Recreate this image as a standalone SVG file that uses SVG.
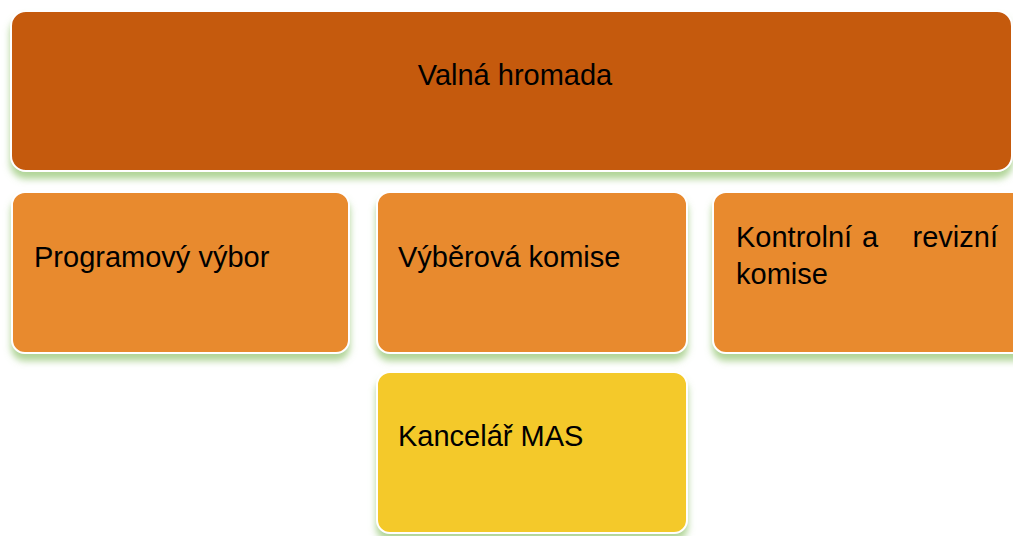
<svg xmlns="http://www.w3.org/2000/svg" width="1013" height="536" viewBox="0 0 1013 536">
<style>
.box{stroke:#ffffff;stroke-width:2;filter:url(#sh)}
.top{fill:#C55A11}
.mid{fill:#E88A2D}
.yel{fill:#F4C92B}
text{font-family:"Liberation Sans",Arial,sans-serif;font-size:29px;fill:#000}
</style>
<defs>
<filter id="sh" x="-5%" y="-10%" width="110%" height="135%">
<feDropShadow dx="0" dy="7" stdDeviation="3.5" flood-color="#A8D08D" flood-opacity="0.9"/>
</filter>
</defs>
<rect width="1013" height="536" fill="#ffffff"/>
<g id="valna-hromada">
<rect class="box top" x="11" y="11" width="1001" height="160" rx="15"/>
<text x="515" y="85" text-anchor="middle">Valná hromada</text>
</g>
<g id="programovy-vybor">
<rect class="box mid" x="12" y="192" width="337" height="161" rx="13"/>
<text x="34" y="267">Programový výbor</text>
</g>
<g id="vyberova-komise">
<rect class="box mid" x="377" y="192" width="310" height="161" rx="13"/>
<text x="398" y="267">Výběrová komise</text>
</g>
<g id="kontrolni-komise">
<rect class="box mid" x="713" y="192" width="320" height="161" rx="13"/>
<text x="736" y="247">Kontrolní</text>
<text x="870" y="247" text-anchor="middle">a</text>
<text x="998" y="247" text-anchor="end">revizní</text>
<text x="736" y="284">komise</text>
</g>
<g id="kancelar-mas">
<rect class="box yel" x="377" y="372" width="310" height="161" rx="13"/>
<text x="398" y="446">Kancelář MAS</text>
</g>
<g id="connectors"></g>
</svg>
